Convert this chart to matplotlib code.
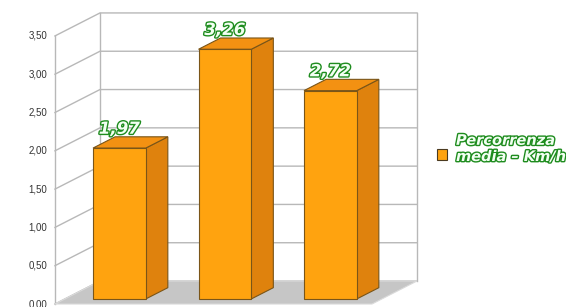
import matplotlib
matplotlib.use("Agg")
import matplotlib.pyplot as plt
from matplotlib.patches import Polygon
import matplotlib.patheffects as pe

# ============================
# DATI
# ============================
categorie = [0, 1, 2]
valori = [1.97, 3.26, 2.72]
etichette_valori = ["1,97", "3,26", "2,72"]
tick_valori = [0.0, 0.5, 1.0, 1.5, 2.0, 2.5, 3.0, 3.5]
tick_etichette = ["0,00", "0,50", "1,00", "1,50", "2,00", "2,50", "3,00", "3,50"]
testo_legenda = "Percorrenza\nmedia – Km/h"

# geometria "3D" (proiezione obliqua in unita' dei dati)
DX, DY = 0.4265, 0.300      # profondita' piena delle pareti
Z0, Z1 = 0.22, 0.71         # profondita' fronte / retro delle barre
X_LO, X_HI = -0.517, 2.488
Y_MAX = 3.5
LARGH = 0.5

COL_FRONTE = "#FFA30F"
COL_LATO = "#DF820D"
COL_SOPRA = "#F39112"
COL_BORDO = "#7A5518"
COL_GRIGLIA = "#B8B8B8"
COL_PAVIMENTO = "#C6C6C6"
VERDE = "#1E8C1E"

fig = plt.figure(figsize=(5.66, 3.07), dpi=100)
ax = fig.add_axes([0, 0, 1, 1])
ax.set_xlim(-1.038, 4.327)
ax.set_ylim(-0.039, 3.969)
ax.axis("off")

# pareti e griglia
for t in tick_valori:
    ax.plot([X_LO, X_LO + DX, X_HI + DX], [t, t + DY, t + DY],
            color=COL_GRIGLIA, lw=1, zorder=1)
for xx, yy in [(X_LO, 0), (X_LO + DX, DY), (X_HI + DX, DY)]:
    ax.plot([xx, xx], [yy, yy + Y_MAX], color=COL_GRIGLIA, lw=1, zorder=1)

# pavimento
pav = Polygon([(X_LO, 0), (X_HI, 0), (X_HI + DX, DY), (X_LO + DX, DY)],
              closed=True, facecolor=COL_PAVIMENTO, edgecolor="#DADADA",
              lw=0.8, zorder=2)
ax.add_patch(pav)

# barre
xs = [c + Z0 * DX for c in categorie]
ax.bar(xs, valori, width=LARGH, bottom=Z0 * DY, color=COL_FRONTE,
       edgecolor=COL_BORDO, linewidth=0.8, zorder=4)

for c, v, lab in zip(categorie, valori, etichette_valori):
    xr = c + LARGH / 2
    xl = c - LARGH / 2
    lato = Polygon([(xr + Z0 * DX, Z0 * DY), (xr + Z1 * DX, Z1 * DY),
                    (xr + Z1 * DX, v + Z1 * DY), (xr + Z0 * DX, v + Z0 * DY)],
                   closed=True, facecolor=COL_LATO, edgecolor=COL_BORDO,
                   lw=0.8, zorder=3)
    sopra = Polygon([(xl + Z0 * DX, v + Z0 * DY), (xr + Z0 * DX, v + Z0 * DY),
                     (xr + Z1 * DX, v + Z1 * DY), (xl + Z1 * DX, v + Z1 * DY)],
                    closed=True, facecolor=COL_SOPRA, edgecolor=COL_BORDO,
                    lw=0.8, zorder=3)
    ax.add_patch(lato)
    ax.add_patch(sopra)
    ax.text(c + Z0 * DX, v + Z1 * DY + 0.04, lab, ha="center", va="baseline",
            fontsize=12, fontweight="bold", fontstyle="italic",
            family="DejaVu Sans", color="#F2FFF2", zorder=6,
            path_effects=[pe.withStroke(linewidth=2, foreground=VERDE)])

# etichette asse y
for t, lab in zip(tick_valori, tick_etichette):
    ax.text(X_LO - 0.075, t, lab, ha="right", va="center", fontsize=7,
            family="Liberation Sans", color="#333333")

# legenda
fig.patches.append(plt.Rectangle((437 / 566, 1 - 160 / 307), 10 / 566, 11 / 307,
                                 transform=fig.transFigure, facecolor=COL_FRONTE,
                                 edgecolor="#4A3A20", lw=0.8))
fig.text(456 / 566, 1 - 161 / 307, testo_legenda, ha="left", va="baseline",
         fontsize=10.5, fontweight="bold", fontstyle="italic",
         family="DejaVu Sans", color="#F2FFF2", linespacing=1.1,
         path_effects=[pe.withStroke(linewidth=2, foreground=VERDE)])

fig.savefig("out.png", dpi=100)
